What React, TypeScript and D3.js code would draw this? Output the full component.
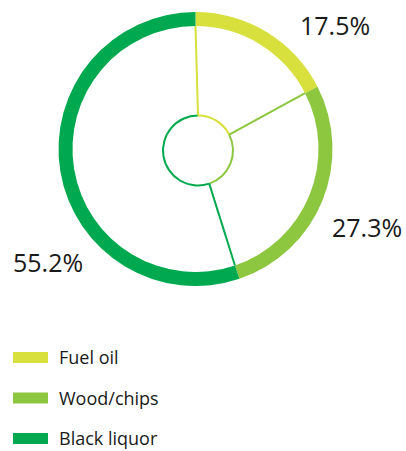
import React, { useRef, useEffect } from 'react';
import * as d3 from 'd3';

const categories = ['Fuel oil', 'Wood/chips', 'Black liquor'];
const values = [17.5, 27.3, 55.2];
const labels = ['17.5%', '27.3%', '55.2%'];
const colors = ['#d7e03c', '#8dc63f', '#00a94f'];

const App = () => {
  const svgRef = useRef<SVGSVGElement>(null);

  useEffect(() => {
    const width = 406;
    const height = 451;
    const svg = d3.select(svgRef.current).attr('width', width).attr('height', height);
    svg.selectAll('*').remove();

    const cx = 195.5, cy = 149;
    const outerR = 137, innerR = 123;
    const hubX = 198, hubY = 150.5, hubR = 35;

    const pie = d3.pie<number>().sort(null).value(d => d);
    const arcs = pie(values);

    const ring = svg.append('g').attr('transform', `translate(${cx},${cy})`);
    const arc = d3.arc<d3.PieArcDatum<number>>().innerRadius(innerR).outerRadius(outerR);
    ring.selectAll('path')
      .data(arcs)
      .enter()
      .append('path')
      .attr('d', arc)
      .attr('fill', (d, i) => colors[i]);

    // hub circle, outlined per slice
    const hub = svg.append('g').attr('transform', `translate(${hubX},${hubY})`);
    const hubArc = d3.arc<d3.PieArcDatum<number>>().innerRadius(hubR - 1).outerRadius(hubR + 1);
    hub.selectAll('path')
      .data(arcs)
      .enter()
      .append('path')
      .attr('d', hubArc)
      .attr('fill', (d, i) => colors[i]);

    // spokes at slice start angles
    svg.selectAll('line.spoke')
      .data(arcs)
      .enter()
      .append('line')
      .attr('class', 'spoke')
      .attr('x1', d => hubX + hubR * Math.sin(d.startAngle))
      .attr('y1', d => hubY - hubR * Math.cos(d.startAngle))
      .attr('x2', d => cx + innerR * Math.sin(d.startAngle))
      .attr('y2', d => cy - innerR * Math.cos(d.startAngle))
      .attr('stroke', (d, i) => colors[i])
      .attr('stroke-width', 2);

    // percentage labels
    const labelPos = [
      { x: 300, y: 35 },
      { x: 332, y: 237 },
      { x: 13, y: 272 },
    ];
    svg.selectAll('text.pct')
      .data(labels)
      .enter()
      .append('text')
      .attr('class', 'pct')
      .attr('x', (d, i) => labelPos[i].x)
      .attr('y', (d, i) => labelPos[i].y)
      .attr('font-family', 'Open Sans, sans-serif')
      .attr('font-size', 25)
      .attr('fill', '#1a1a1a')
      .text(d => d);

    // legend
    const legend = svg.append('g').attr('transform', 'translate(13,352)');
    const row = legend.selectAll('g')
      .data(categories)
      .enter()
      .append('g')
      .attr('transform', (d, i) => `translate(0,${i * 40.5})`);
    row.append('rect')
      .attr('width', 35)
      .attr('height', 11)
      .attr('fill', (d, i) => colors[i]);
    row.append('text')
      .attr('x', 46)
      .attr('y', 12)
      .attr('font-family', 'Open Sans, sans-serif')
      .attr('font-size', 18)
      .attr('fill', '#1a1a1a')
      .text(d => d);
  }, []);

  return <svg ref={svgRef} style={{ position: 'absolute', left: 0, top: 0 }}></svg>;
};

export default App;
